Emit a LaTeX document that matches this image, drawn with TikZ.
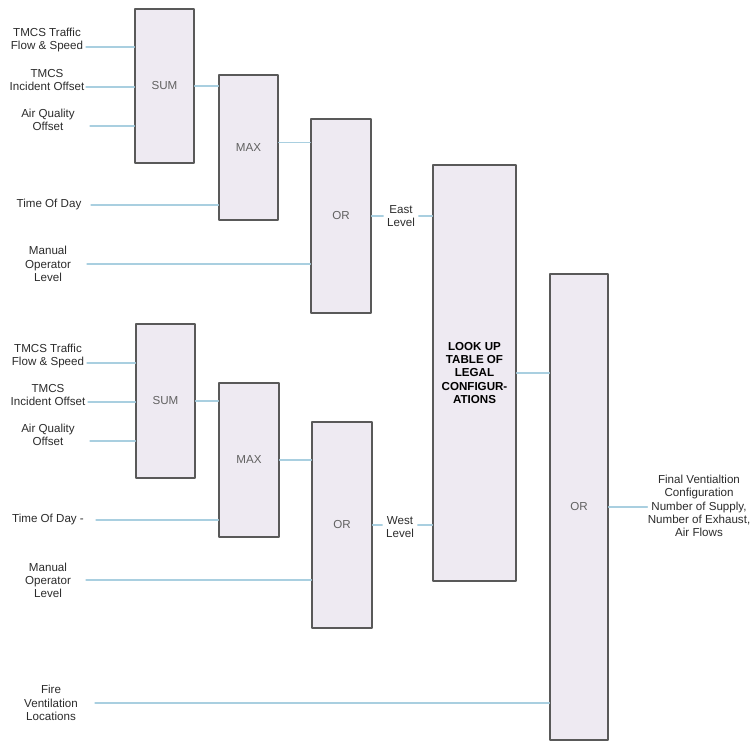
\documentclass[tikz,border=0pt]{standalone}
\usepackage{fontspec}
\setmainfont{Liberation Sans}
\definecolor{boxfill}{HTML}{EEEAF2}
\definecolor{boxline}{HTML}{595959}
\definecolor{wireblue}{HTML}{A9CFE0}
\definecolor{inktext}{HTML}{2B2B2B}
\tikzset{
  blk/.style={draw=boxline,fill=boxfill,line width=0.7pt,inner sep=0pt,text=black!62},
  lbl/.style={align=center,text=inktext,inner sep=0pt},
  wire/.style={wireblue,line width=0.6pt},
}

\begin{document}
\begin{tikzpicture}[x=0.02cm,y=-0.02cm,font=\fontsize{6.6}{7.55}\selectfont,line cap=round,line join=round]
\useasboundingbox (0,0) rectangle (753,742);
% east chain
\node[blk,minimum width=1.18cm,minimum height=3.08cm] (sumE) at (164.5,86) {SUM};
\node[blk,minimum width=1.18cm,minimum height=2.90cm] (maxE) at (248.5,147.5) {MAX};
\node[blk,minimum width=1.20cm,minimum height=3.88cm] (orE) at (341,216) {OR};
% west chain
\node[blk,minimum width=1.18cm,minimum height=3.08cm] (sumW) at (165.5,401) {SUM};
\node[blk,minimum width=1.20cm,minimum height=3.08cm] (maxW) at (249,460) {MAX};
\node[blk,minimum width=1.20cm,minimum height=4.12cm] (orW) at (342,525) {OR};
% lookup and final
\node[blk,minimum width=1.66cm,minimum height=8.32cm,align=center,text=black,font=\fontsize{6.6}{7.55}\selectfont\bfseries] (lut) at (474.5,373) {LOOK UP\\TABLE OF\\LEGAL\\CONFIGUR-\\ATIONS};
\node[blk,minimum width=1.16cm,minimum height=9.32cm] (fin) at (579,507) {OR};

% inputs, east
\node[lbl] (tfE) at (47,40) {TMCS Traffic\\Flow \& Speed};
\node[lbl] (tiE) at (47,80) {TMCS\\Incident Offset};
\node[lbl] (aqE) at (48,120) {Air Quality\\Offset};
\node[lbl] (tdE) at (49,205) {Time Of Day};
\node[lbl] (moE) at (48,264) {Manual\\Operator\\Level};
% inputs, west
\node[lbl] (tfW) at (48,356) {TMCS Traffic\\Flow \& Speed};
\node[lbl] (tiW) at (48,395) {TMCS\\Incident Offset};
\node[lbl] (aqW) at (48,434.5) {Air Quality\\Offset};
\node[lbl] (tdW) at (48,520) {Time Of Day -};
\node[lbl] (moW) at (48,580.5) {Manual\\Operator\\Level};
\node[lbl] (fire) at (51,703) {Fire\\Ventilation\\Locations};

\coordinate (tfEo) at (86,47);
\coordinate (tiEo) at (86,87);
\coordinate (aqEo) at (90,126);
\coordinate (tdEo) at (91,205);
\coordinate (moEo) at (87,264);
\coordinate (tfWo) at (87,363);
\coordinate (tiWo) at (88,402);
\coordinate (aqWo) at (90,441);
\coordinate (tdWo) at (96,520);
\coordinate (moWo) at (86,580);
\coordinate (fireo) at (95,703);

\draw[wire] (tfEo) -- (tfEo -| sumE.west);
\draw[wire] (tiEo) -- (tiEo -| sumE.west);
\draw[wire] (aqEo) -- (aqEo -| sumE.west);
\draw[wire] (tdEo) -- (tdEo -| maxE.west);
\draw[wire] (moEo) -- (moEo -| orE.west);
\draw[wire] (sumE.east) -- (sumE.east -| maxE.west);
\draw[wire] ([yshift=0.1cm]maxE.east) coordinate (mE) -- (mE -| orE.west);

\draw[wire] (tfWo) -- (tfWo -| sumW.west);
\draw[wire] (tiWo) -- (tiWo -| sumW.west);
\draw[wire] (aqWo) -- (aqWo -| sumW.west);
\draw[wire] (tdWo) -- (tdWo -| maxW.west);
\draw[wire] (moWo) -- (moWo -| orW.west);
\draw[wire] (sumW.east) -- (sumW.east -| maxW.west);
\draw[wire] (maxW.east) -- (maxW.east -| orW.west);
\draw[wire] (fireo) -- (fireo -| fin.west);

% levels into the table
\node[lbl] (elev) at (401,216) {East\\Level};
\node[lbl] (wlev) at (400,527) {West\\Level};
\draw[wire] (orE.east) -- ([xshift=-2pt]elev.west);
\draw[wire] ([xshift=2pt]elev.east) -- (elev.east -| lut.west);
\draw[wire] (orW.east) -- ([xshift=-2pt]orW.east -| wlev.west);
\draw[wire] ([xshift=2pt]wlev.east |- orW.east) -- (orW.east -| lut.west);
\draw[wire] (lut.east) -- (lut.east -| fin.west);

% output
\node[lbl] (out) at (699,506) {Final Ventialtion\\Configuration\\Number of Supply,\\Number of Exhaust,\\Air Flows};
\draw[wire] (fin.east) -- (fin.east -| out.west);
\end{tikzpicture}
\end{document}
